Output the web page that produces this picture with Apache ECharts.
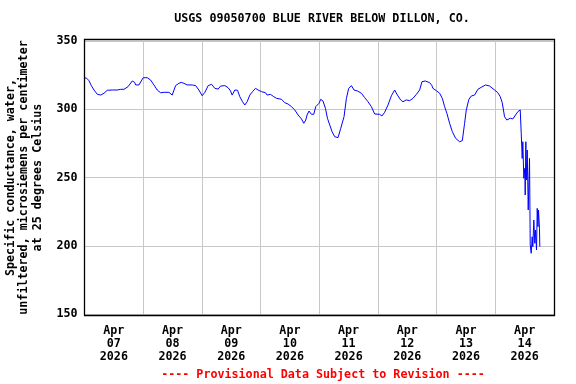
<!DOCTYPE html>
<html>
<head>
<meta charset="utf-8">
<script src="https://cdn.jsdelivr.net/npm/echarts@6/dist/echarts.min.js"></script>
<style>html,body{margin:0;padding:0;background:#fff}#c{width:576px;height:384px}</style>
</head>
<body>
<div id="c"></div>
<script>
// Hours since 2026-04-07 00:00
var hours = [0,0.9,1.84,2.78,3.88,5.23,6.62,7.97,9.31,11.36,
13.4,14.79,16.14,16.83,17.77,19.53,20.51,20.92,22.26,23.2,
24.02,25.65,27.04,28.39,29.74,31.13,32.48,34.52,35.87,37.26,
38.6,39.54,40.65,41.99,44.04,45.43,46.78,48.12,49.23,50.57,
51.96,53.31,54.66,55.64,57.4,58.74,59.72,60.38,61.48,62.58,
63.52,64.63,65.57,66.51,67.61,68.71,69.94,71,72.39,74.02,
74.68,76.07,77.41,78.52,80.56,81.91,83.26,84.64,85.99,87.34,
88.73,89.67,90.49,91.01,91.83,92.81,93.75,94.57,95.92,96.61,
97.55,98.53,99.35,100.29,101.23,102.33,103.68,104.78,106.13,107.11,
108.05,109.15,110.22,111.61,113.24,114.59,115.94,117.32,118.67,120.71,
121.65,122.76,124.11,125.5,126.84,127.95,129.3,130.23,131.62,132.97,
134.32,135.71,137.06,138,139.38,141.14,142.08,142.49,143.88,145.23,
146.33,147.27,148.21,149.31,150.42,151.77,153.4,154.5,155.44,156.13,
157.2,158.18,159.52,160.87,162.26,164.02,165.65,167.69,169.04,170.02,
170.84,171.78,172.72,174.11,175.17,176.27,177.21,178.19,178.6,179,
179.25,179.66,180.07,180.23,180.48,180.77,181.05,181.46,181.99,182.28,
182.68,183.09,183.34,183.75,184.16,184.44,184.85,185.14,185.45,185.67,
186.06,186.2];
// Specific conductance, microsiemens per cm at 25 C
var conductance = [323.1,322.7,320.9,317.3,314.1,311,310.4,311.7,313.9,314.1,
314.1,314.6,314.6,314.1,316.5,320.7,319.7,317.8,317.8,320.7,
323.1,323.1,321.4,317.8,314.1,312.1,312.4,312.4,310.4,317.3,
319,319.7,319,317.8,317.8,317.3,314.1,309.9,312.4,317.3,
318.3,315.3,314.8,317,317.3,315.8,313.4,310.4,314.1,313.9,
309.2,305.5,303.1,305.5,310.4,312.9,315.3,314.1,312.9,312.1,
310.4,310.9,309.2,308,307.3,304.8,303.8,301.9,299.5,295.8,
292.9,289.7,292.1,295.8,298.7,296.3,296.3,301.9,304.4,307.3,
306,300.7,293.4,288.5,283.6,279.9,279.2,286,294.5,308,
315.3,317.3,314.1,313.4,311.7,308.5,305.5,301.9,296.5,296.3,
295.1,297.8,303.1,309.9,314.1,310.4,306.8,305.5,306.8,306.3,
308,310.9,314.1,320.2,320.7,319.5,317.3,315.3,313.6,311.7,
308,301.9,297,289.7,283.6,278.7,276.2,277,289.7,299.5,
307.3,309.7,310.4,314.6,316.1,317.8,317,314.1,312.1,309.2,
304.8,294.5,292.1,293.4,292.9,295.8,298.2,299.5,282.4,264,
276.2,249.4,256.7,237.2,276.2,248.2,270.1,226.2,264,200.6,
194.5,206.6,199.3,218.9,201.8,211.5,196.9,227.4,214,226.2,
212.8,199.3];

var tickMonths = ['Apr','Apr','Apr','Apr','Apr','Apr','Apr','Apr'];
var tickDays = ['07','08','09','10','11','12','13','14'];
var tickYears = ['2026','2026','2026','2026','2026','2026','2026','2026'];
var yTicks = [150, 200, 250, 300, 350];

var titleText = 'USGS 09050700 BLUE RIVER BELOW DILLON, CO.';
var yName = 'Specific conductance, water,\nunfiltered, microsiemens per centimeter\nat 25 degrees Celsius';
var footText = '---- Provisional Data Subject to Revision ----';

var FONT = '"DejaVu Sans Mono", "Liberation Mono", monospace';
var FS = 11.7;

var data = hours.map(function (h, i) { return [h, conductance[i]]; });

var chart = echarts.init(document.getElementById('c'), null, {renderer: 'canvas'});
chart.setOption({
  animation: false,
  backgroundColor: '#ffffff',
  grid: {left: 84.5, right: 22, top: 41, bottom: 70, containLabel: false, outerBoundsMode: 'none'},
  xAxis: [{
    type: 'value', min: 0, max: 192, interval: 24,
    axisLine: {show: false}, axisTick: {show: false}, axisLabel: {show: false},
    splitLine: {show: true, lineStyle: {color: '#c8c8c8', width: 1}}
  }, {
    type: 'value', min: 0, max: 192, interval: 12, position: 'bottom',
    axisLine: {show: false}, axisTick: {show: false}, splitLine: {show: false},
    axisLabel: {
      show: true, showMinLabel: false, showMaxLabel: false, margin: 10,
      fontFamily: FONT, fontWeight: 'bold', fontSize: FS, lineHeight: 13, color: '#000',
      formatter: function (v) {
        if (v % 24 === 12) {
          var i = (v - 12) / 24;
          return tickMonths[i] + '\n' + tickDays[i] + '\n' + tickYears[i];
        }
        return '';
      }
    }
  }],
  yAxis: {
    type: 'value', min: yTicks[0], max: yTicks[yTicks.length - 1], interval: 50,
    axisLine: {show: false}, axisTick: {show: false},
    axisLabel: {margin: 7, fontFamily: FONT, fontWeight: 'bold', fontSize: FS, color: '#000'},
    splitLine: {show: true, lineStyle: {color: '#c8c8c8', width: 1}},
    name: yName, nameLocation: 'middle', nameRotate: 90, nameGap: 40,
    nameTextStyle: {fontFamily: FONT, fontWeight: 'bold', fontSize: FS, lineHeight: 13.5, color: '#000', align: 'center'}
  },
  series: [{
    type: 'line', xAxisIndex: 0, data: data, showSymbol: false, symbol: 'none',
    lineStyle: {color: '#0000ff', width: 1}, itemStyle: {color: '#0000ff'}
  }],
  graphic: [
    {type: 'rect', silent: true, z: 100,
     shape: {x: 84.5, y: 39.5, width: 470, height: 276},
     style: {fill: null, stroke: '#000', lineWidth: 1.3}},
    {type: 'text', silent: true, z: 100,
     style: {x: 322, y: 19, text: titleText, align: 'center', verticalAlign: 'middle',
             font: 'bold ' + FS + 'px ' + FONT, fill: '#000'}},
    {type: 'text', silent: true, z: 100,
     style: {x: 323, y: 375, text: footText, align: 'center', verticalAlign: 'middle',
             font: 'bold ' + FS + 'px ' + FONT, fill: '#ff0000'}}
  ]
});
</script>
</body>
</html>
